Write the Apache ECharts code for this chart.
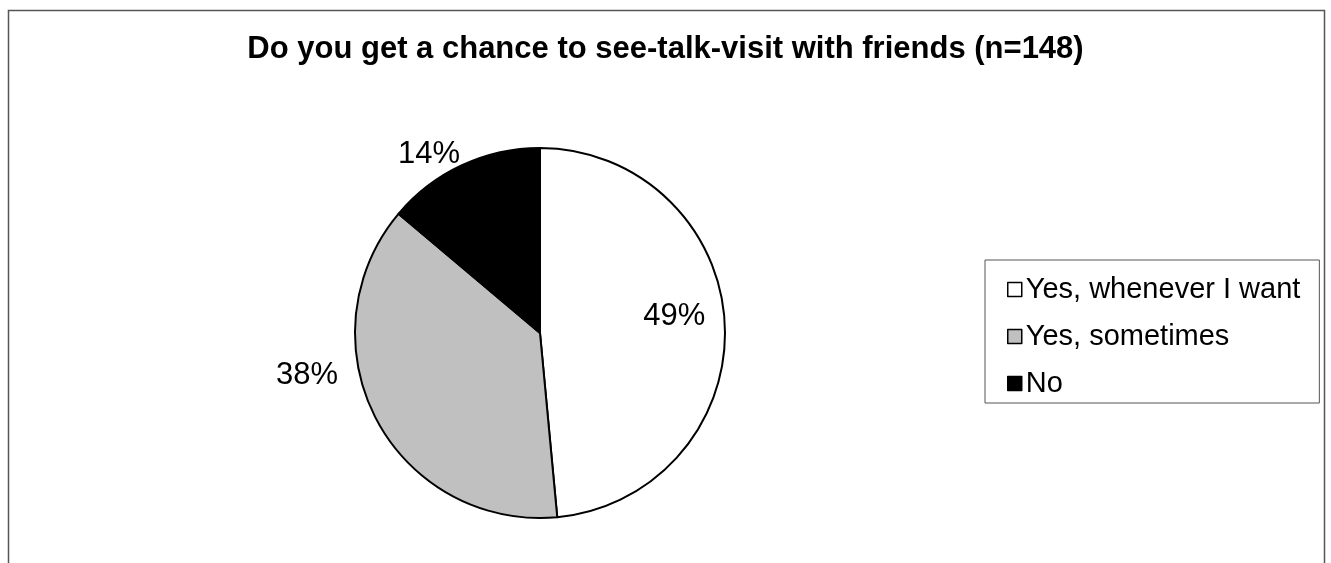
<!DOCTYPE html>
<html>
<head>
<meta charset="utf-8">
<script src="https://cdn.jsdelivr.net/npm/echarts@6/dist/echarts.min.js"></script>
<style>
  html, body { margin: 0; padding: 0; background: #fff; }
  #chart { width: 1331px; height: 563px; }
</style>
</head>
<body>
<div id="chart"></div>
<script>
// Survey answers: share of respondents (percent)
const categories = ['Yes, whenever I want', 'Yes, sometimes', 'No'];
const percents = [49, 38, 14];
const sliceColors = ['#ffffff', '#c0c0c0', '#000000'];
const titleText = 'Do you get a chance to see-talk-visit with friends (n=148)';

// Nudges for each value label away from its default anchor
const labelOffsets = [
  { dx: 39, dy: -12 },
  { dx: -33, dy: -43 },
  { dx: 3, dy: -11 }
];

const FONT = '"Liberation Sans", Arial, sans-serif';

const chart = echarts.init(document.getElementById('chart'), null, { renderer: 'canvas' });

const seriesData = categories.map((name, i) => ({
  name: name,
  value: percents[i],
  itemStyle: { color: sliceColors[i] },
  label: i === 0 ? { position: 'inside' } : { position: 'outside' }
}));

chart.setOption({
  animation: false,
  backgroundColor: '#ffffff',
  title: {
    text: titleText,
    left: 'center',
    top: 29,
    textStyle: { fontFamily: FONT, fontWeight: 'bold', fontSize: 31, color: '#000' }
  },
  legend: {
    orient: 'vertical',
    left: 985,
    top: 260,
    padding: [15, 19, 5, 22],
    itemGap: 18,
    itemWidth: 14,
    itemHeight: 14,
    icon: 'rect',
    borderColor: '#555',
    borderWidth: 1,
    selectedMode: false,
    itemStyle: { borderColor: '#000', borderWidth: 1.5 },
    textStyle: { fontFamily: FONT, fontSize: 29, color: '#000', padding: [0, 0, 0, -1] },
    data: categories
  },
  graphic: [{
    type: 'polyline',
    shape: { points: [[8.5, 570], [8.5, 10.5], [1324.5, 10.5], [1324.5, 570]] },
    style: { stroke: '#555', lineWidth: 1.5, fill: null },
    silent: true
  }],
  series: [{
    type: 'pie',
    center: [540, 333],
    radius: 185,
    startAngle: 90,
    clockwise: true,
    avoidLabelOverlap: false,
    itemStyle: { borderColor: '#000', borderWidth: 2 },
    emphasis: { disabled: true },
    label: {
      show: true,
      formatter: p => p.value + '%',
      fontFamily: FONT,
      fontSize: 31,
      color: '#000'
    },
    labelLine: { show: false, length: 0, length2: 0 },
    labelLayout: params => labelOffsets[params.dataIndex],
    data: seriesData
  }]
});
</script>
</body>
</html>
